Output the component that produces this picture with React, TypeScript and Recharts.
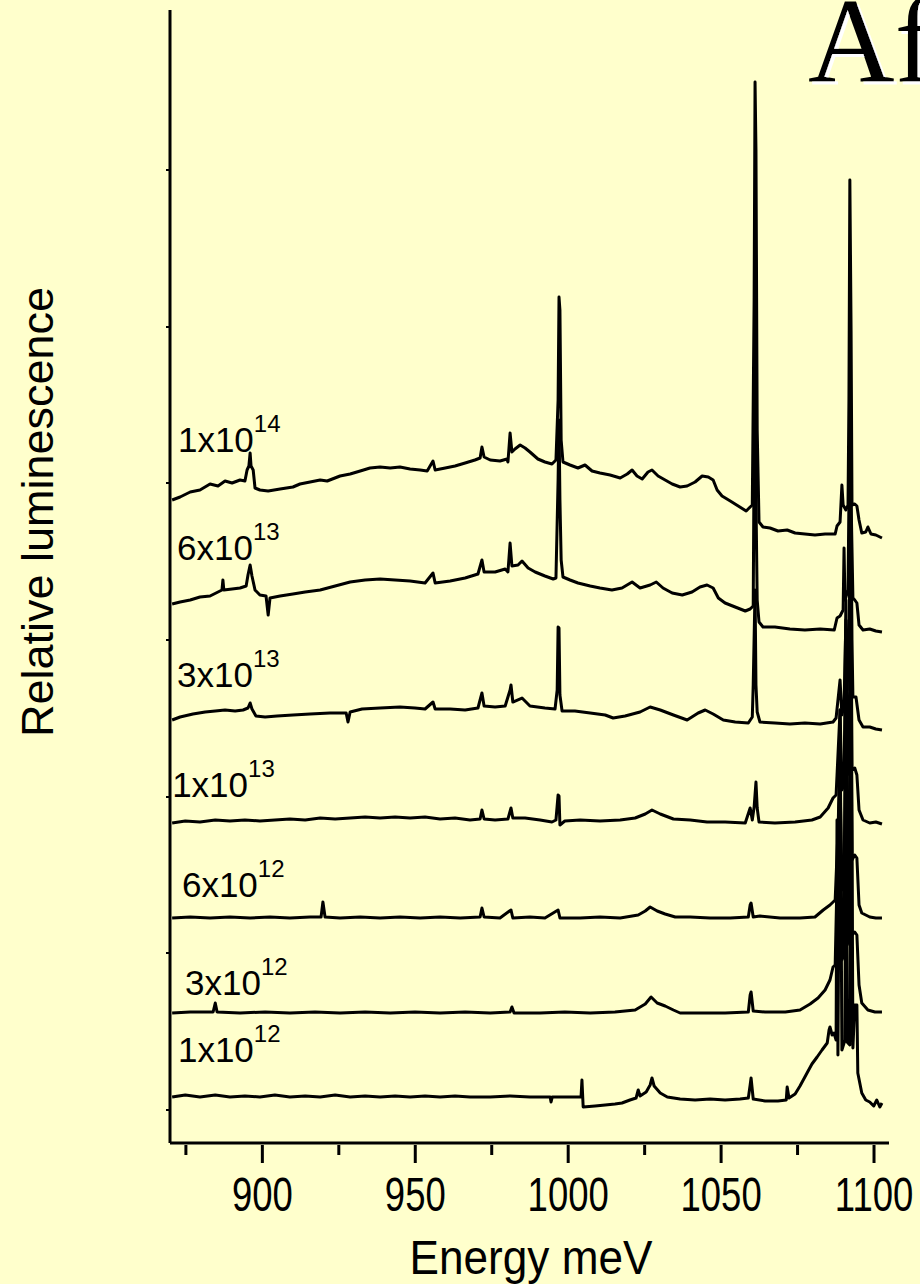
import React from "react";
import { Line, LineChart, ReferenceDot, XAxis, YAxis } from "recharts";

// photoluminescence spectra, offset per implant dose (energy meV, relative level)
const dose1e14: [number, number][] = [
	[870.5, 643], [873.1, 646], [876.4, 651], [879.6, 653], [882.9, 659], [885.5, 657], [887.8, 662], [890.1, 660],
	[892.7, 663], [894.3, 662], [895.0, 673], [895.6, 677], [896.0, 690], [896.3, 677], [897.0, 673], [897.6, 655],
	[899.2, 653], [901.9, 652], [905.8, 654], [910.0, 656], [912.3, 659], [915.6, 661], [918.9, 663], [921.2, 662],
	[925.4, 667], [928.7, 669], [932.0, 672], [935.2, 675], [938.5, 676], [941.8, 675], [945.0, 676], [948.3, 674],
	[951.6, 673], [953.9, 672], [955.8, 682], [956.5, 673], [959.8, 675], [963.0, 677], [966.3, 680], [969.5, 683],
	[971.2, 685], [971.8, 696], [972.5, 686], [974.5, 683], [977.7, 682], [980.0, 684], [980.3, 681], [981.0, 710],
	[981.6, 691], [982.6, 694], [984.3, 698], [985.9, 695], [987.5, 691], [990.1, 684], [992.4, 681], [994.7, 679],
	[996.0, 683], [996.7, 743], [997.0, 846], [997.3, 833], [997.7, 703], [998.3, 681], [1000.6, 678], [1003.2, 675],
	[1005.5, 678], [1007.8, 672], [1010.4, 670], [1013.7, 668], [1017.0, 665], [1019.3, 669], [1020.9, 673], [1022.5, 667],
	[1024.2, 664], [1026.1, 671], [1027.4, 673], [1029.4, 667], [1031.7, 663], [1034.0, 659], [1036.6, 656], [1038.9, 657],
	[1041.5, 661], [1043.8, 667], [1045.8, 666], [1047.4, 663], [1048.7, 653], [1050.3, 647], [1053.0, 642], [1055.6, 637],
	[1058.2, 632], [1059.5, 636], [1060.2, 638], [1060.8, 843], [1061.1, 1061], [1061.4, 993], [1061.8, 713], [1062.4, 621],
	[1063.7, 616], [1066.0, 615], [1068.6, 612], [1071.6, 613], [1074.2, 610], [1077.4, 609], [1080.7, 608], [1084.0, 609],
	[1087.3, 609], [1087.9, 617], [1088.9, 621], [1089.5, 658], [1089.9, 638], [1090.8, 633], [1091.5, 638], [1091.8, 743],
	[1092.1, 963], [1092.5, 813], [1092.8, 638], [1093.7, 639], [1094.4, 637], [1095.1, 623], [1096.0, 610], [1097.3, 611],
	[1098.0, 616], [1099.0, 609], [1100.6, 608], [1102.6, 605],
];

const dose6e13: [number, number][] = [
	[870.5, 539], [873.1, 541], [876.4, 543], [879.6, 546], [882.9, 547], [886.8, 553], [887.1, 563], [887.4, 553],
	[890.1, 554], [892.7, 555], [894.7, 557], [895.3, 568], [896.0, 578], [896.6, 567], [897.6, 553], [899.2, 548],
	[901.2, 547], [901.9, 528], [902.5, 545], [905.8, 547], [910.0, 549], [914.0, 551], [918.9, 553], [923.8, 557],
	[928.7, 561], [933.6, 563], [938.5, 564], [943.4, 563], [948.3, 562], [953.2, 560], [955.8, 570], [956.5, 560],
	[961.4, 562], [966.3, 565], [970.5, 569], [971.8, 583], [972.5, 571], [976.1, 571], [979.4, 574], [980.3, 571],
	[981.0, 600], [981.6, 577], [983.6, 578], [984.9, 582], [986.9, 575], [989.2, 571], [992.4, 567], [995.1, 564],
	[996.0, 565], [996.7, 663], [997.0, 723], [997.3, 643], [997.7, 583], [998.3, 566], [1000.6, 563], [1003.2, 560],
	[1007.2, 557], [1010.4, 555], [1014.3, 553], [1017.6, 555], [1020.9, 561], [1023.5, 555], [1026.8, 558], [1028.8, 561],
	[1031.0, 555], [1034.0, 550], [1037.3, 548], [1040.5, 551], [1043.1, 556], [1045.4, 558], [1047.4, 555], [1049.1, 545],
	[1051.3, 540], [1054.6, 536], [1057.9, 532], [1059.5, 534], [1060.5, 537], [1060.8, 693], [1061.1, 883], [1061.4, 643],
	[1061.8, 543], [1062.4, 521], [1063.7, 516], [1067.6, 516], [1072.5, 514], [1077.4, 513], [1082.4, 514], [1087.0, 513],
	[1087.9, 525], [1088.9, 527], [1089.9, 533], [1090.2, 595], [1090.5, 543], [1091.5, 553], [1091.8, 643], [1092.1, 748],
	[1092.5, 643], [1093.1, 545], [1093.7, 543], [1094.4, 540], [1095.1, 518], [1096.4, 513], [1098.6, 514], [1100.6, 512],
	[1102.6, 511],
];

const dose3e13: [number, number][] = [
	[870.5, 423], [873.1, 426], [877.3, 429], [881.3, 431], [884.6, 432], [887.8, 433], [891.1, 432], [893.7, 433],
	[895.3, 435], [896.0, 440], [896.6, 434], [897.9, 427], [900.9, 426], [904.8, 427], [910.0, 428], [915.6, 429],
	[922.1, 430], [927.4, 430], [928.0, 421], [928.7, 431], [932.6, 434], [938.5, 435], [945.0, 436], [949.9, 435],
	[953.2, 434], [955.8, 441], [956.5, 434], [961.4, 434], [966.3, 433], [970.5, 435], [971.8, 450], [972.5, 437],
	[976.1, 436], [979.4, 437], [981.0, 453], [981.3, 458], [981.9, 441], [984.9, 445], [987.5, 437], [992.4, 435],
	[995.7, 434], [996.4, 453], [996.7, 516], [997.0, 515], [997.3, 448], [998.0, 432], [1002.2, 432], [1007.2, 430],
	[1012.1, 428], [1014.7, 425], [1018.6, 427], [1023.5, 431], [1026.8, 436], [1030.1, 433], [1034.4, 428], [1038.9, 423],
	[1042.5, 430], [1044.8, 433], [1047.4, 429], [1050.7, 423], [1054.6, 421], [1058.9, 420], [1060.2, 426], [1060.5, 458],
	[1061.1, 553], [1061.4, 458], [1061.8, 431], [1062.7, 421], [1067.6, 420], [1072.5, 419], [1077.4, 420], [1082.4, 419],
	[1086.6, 421], [1087.6, 425], [1088.9, 463], [1089.5, 428], [1090.2, 438], [1090.8, 523], [1091.2, 453], [1091.8, 503],
	[1092.4, 673], [1092.8, 503], [1093.1, 446], [1094.1, 446], [1095.1, 423], [1096.4, 416], [1098.6, 416], [1100.6, 414],
	[1102.6, 413],
];

const dose1e13: [number, number][] = [
	[870.5, 320], [874.8, 322], [879.6, 321], [884.6, 323], [889.4, 322], [894.3, 323], [899.2, 322], [904.1, 323],
	[909.0, 324], [914.0, 323], [918.9, 325], [923.8, 324], [928.7, 325], [933.6, 326], [938.5, 325], [943.4, 326],
	[948.3, 325], [953.2, 326], [958.1, 324], [963.0, 325], [967.9, 323], [971.2, 324], [971.8, 333], [972.5, 324],
	[976.1, 323], [980.3, 324], [981.3, 335], [981.9, 325], [985.9, 325], [990.8, 323], [994.7, 321], [996.0, 323],
	[996.7, 348], [997.0, 347], [997.3, 318], [998.9, 322], [1003.9, 323], [1010.4, 322], [1017.0, 323], [1021.9, 325],
	[1025.2, 329], [1027.4, 333], [1030.1, 329], [1034.4, 324], [1039.9, 323], [1045.4, 321], [1051.3, 321], [1057.9, 320],
	[1059.5, 335], [1060.2, 323], [1060.8, 336], [1061.4, 361], [1061.8, 335], [1062.4, 321], [1067.6, 320], [1074.2, 321],
	[1079.7, 323], [1082.4, 326], [1085.0, 335], [1086.6, 345], [1087.6, 348], [1088.9, 433], [1089.5, 353], [1090.2, 358],
	[1090.8, 543], [1091.2, 368], [1091.8, 370], [1092.4, 603], [1092.8, 373], [1093.7, 375], [1094.4, 368], [1095.1, 333],
	[1096.4, 323], [1098.6, 320], [1100.6, 321], [1102.6, 319],
];

const dose6e12: [number, number][] = [
	[870.5, 225], [876.4, 226], [882.9, 225], [889.4, 226], [896.0, 225], [902.5, 226], [909.0, 225], [915.6, 226],
	[919.2, 226], [919.8, 241], [920.5, 226], [925.4, 225], [932.0, 226], [938.5, 225], [945.0, 226], [951.6, 225],
	[958.1, 226], [964.7, 225], [971.2, 226], [971.8, 235], [972.5, 226], [977.7, 225], [981.3, 233], [981.9, 225],
	[987.5, 226], [992.4, 225], [996.7, 233], [997.3, 225], [1003.9, 225], [1010.4, 226], [1017.0, 225], [1022.9, 228],
	[1025.2, 232], [1026.8, 236], [1029.1, 232], [1031.7, 229], [1035.0, 226], [1039.9, 226], [1046.4, 225], [1053.0, 225],
	[1058.9, 226], [1059.5, 238], [1059.8, 240], [1060.5, 226], [1062.7, 227], [1069.3, 225], [1075.8, 225], [1080.7, 226],
	[1083.4, 233], [1085.6, 238], [1087.3, 243], [1088.9, 363], [1089.5, 253], [1090.2, 258], [1090.8, 443], [1091.2, 273],
	[1091.8, 278], [1092.4, 503], [1092.8, 283], [1093.7, 288], [1094.4, 285], [1095.1, 238], [1096.0, 230], [1098.6, 226],
	[1100.6, 225], [1102.6, 225],
];

const dose3e12: [number, number][] = [
	[870.5, 130], [876.4, 131], [883.9, 131], [884.6, 140], [885.2, 131], [892.7, 130], [900.9, 131], [909.0, 130],
	[917.2, 131], [925.4, 130], [933.6, 131], [941.8, 130], [949.9, 131], [958.1, 130], [966.3, 131], [974.5, 130],
	[981.0, 131], [981.6, 136], [982.3, 130], [990.8, 130], [998.9, 131], [1007.2, 130], [1015.3, 131], [1021.9, 133],
	[1025.2, 139], [1027.1, 146], [1029.1, 140], [1031.7, 137], [1034.4, 133], [1036.6, 130], [1043.1, 130], [1051.3, 130],
	[1058.9, 131], [1059.5, 148], [1059.8, 151], [1060.5, 132], [1064.4, 131], [1071.0, 131], [1075.8, 133], [1079.1, 139],
	[1081.7, 145], [1084.0, 153], [1085.6, 163], [1086.6, 176], [1087.3, 178], [1088.9, 403], [1089.5, 183], [1090.2, 188],
	[1090.8, 483], [1091.2, 198], [1091.8, 203], [1092.4, 543], [1092.8, 208], [1093.7, 211], [1094.4, 208], [1095.1, 158],
	[1096.0, 140], [1098.0, 133], [1100.3, 131], [1102.6, 131],
];

const dose1e12: [number, number][] = [
	[870.5, 46], [874.8, 48], [879.6, 46], [884.6, 48], [889.4, 46], [894.3, 47], [899.2, 46], [904.1, 48],
	[909.0, 46], [914.0, 47], [918.9, 46], [923.8, 48], [928.7, 46], [933.6, 47], [938.5, 46], [943.4, 47],
	[948.3, 46], [953.2, 47], [958.1, 46], [963.0, 47], [967.9, 46], [974.5, 46], [981.0, 47], [987.5, 46],
	[994.1, 46], [994.4, 41], [994.8, 46], [1000.6, 46], [1004.2, 46], [1004.5, 63], [1004.9, 36], [1008.8, 37],
	[1012.1, 38], [1015.3, 39], [1017.6, 40], [1020.2, 43], [1022.2, 45], [1022.9, 53], [1023.5, 47], [1025.5, 51],
	[1026.8, 58], [1027.4, 65], [1028.1, 57], [1030.1, 50], [1032.4, 46], [1036.6, 44], [1041.5, 43], [1046.4, 44],
	[1051.3, 43], [1056.2, 44], [1058.9, 45], [1059.5, 58], [1059.8, 65], [1060.5, 44], [1064.4, 42], [1068.6, 42],
	[1071.3, 43], [1071.6, 56], [1072.2, 45], [1074.2, 49], [1075.8, 57], [1078.1, 70], [1079.7, 79], [1081.4, 86],
	[1083.0, 93], [1084.7, 100], [1085.3, 113], [1085.6, 116], [1086.3, 108], [1086.9, 110], [1087.6, 103], [1087.9, 323],
	[1088.2, 88], [1088.9, 433], [1089.5, 93], [1090.5, 103], [1090.8, 463], [1091.2, 101], [1092.1, 98], [1092.5, 523],
	[1093.1, 95], [1093.7, 138], [1094.4, 138], [1094.7, 70], [1096.0, 50], [1097.3, 43], [1098.6, 41], [1099.9, 37],
	[1100.9, 43], [1101.9, 36], [1102.6, 40],
];

const traces = [dose1e14, dose6e13, dose3e13, dose1e13, dose6e12, dose3e12, dose1e12];

// dose annotations, written as mantissa x 10^exponent
const doseMantissa = ["1x10", "6x10", "3x10", "1x10", "6x10", "3x10", "1x10"];
const doseExponent = ["14", "13", "13", "13", "12", "12", "12"];
const labelEnergy = [872.4, 872.1, 872.1, 870.5, 873.7, 874.7, 872.4];
const labelLevel = [691, 583, 456, 346, 246, 148, 81];

const energyTicks = [875, 900, 925, 950, 975, 1000, 1025, 1050, 1075, 1100];
const levelTicks = [33, 190, 346, 503, 660, 816, 973];

const BG = "#FFFFCC";
const SANS = "'Liberation Sans', Arial, Helvetica, sans-serif";
const SERIF = "'Liberation Serif', 'Times New Roman', serif";

const EnergyTick = (props: any) => {
	const { x, y, payload } = props;
	const major = payload.value % 50 === 0;
	return (
		<g>
			<line x1={x} y1={y} x2={x} y2={y + (major ? 18 : 10)} stroke="#000" strokeWidth={3} />
			{major && (
				<text
					transform={`translate(${x},${y + 66}) scale(0.76,1)`}
					textAnchor="middle"
					fontSize={48}
					fontFamily={SANS}
					fill="#000"
				>
					{payload.value}
				</text>
			)}
		</g>
	);
};

const blankTick = () => <g />;

export default function App() {
	return (
		<div style={{ position: "relative", width: 920, height: 1284, background: BG }}>
			<style>{`body{margin:0;background:${BG}}`}</style>
			<LineChart width={920} height={1284} margin={{ top: 10, right: 31, bottom: 0, left: 100 }}>
				<XAxis
					type="number"
					dataKey="e"
					domain={[869.8, 1104.9]}
					allowDataOverflow
					ticks={energyTicks}
					interval={0}
					tickSize={0}
					tickLine={false}
					tick={EnergyTick}
					height={141}
					axisLine={{ stroke: "#000", strokeWidth: 3 }}
				/>
				<YAxis
					type="number"
					domain={[0, 1133]}
					allowDataOverflow
					ticks={levelTicks}
					interval={0}
					width={70}
					tickSize={4}
					tick={blankTick}
					tickLine={{ stroke: "#000", strokeWidth: 2 }}
					axisLine={{ stroke: "#000", strokeWidth: 3 }}
				/>
				{traces.map((pts, i) => (
					<Line
						key={`trace-${i}`}
						data={pts.map(([e, v]) => ({ e, v }))}
						dataKey="v"
						type="linear"
						stroke="#000"
						strokeWidth={3}
						strokeLinejoin="round"
						dot={false}
						isAnimationActive={false}
					/>
				))}
				{doseMantissa.map((m, i) => (
					<ReferenceDot
						key={`dose-${i}`}
						x={labelEnergy[i]}
						y={labelLevel[i]}
						r={0}
						ifOverflow="visible"
						shape={(p: any) => (
							<text x={p.cx} y={p.cy} fontSize={35} fontFamily={SANS} fill="#000">
								{m}
								<tspan dy={-20} fontSize={24}>
									{doseExponent[i]}
								</tspan>
							</text>
						)}
					/>
				))}
			</LineChart>
			<svg
				width={920}
				height={1284}
				style={{ position: "absolute", left: 0, top: 0, pointerEvents: "none" }}
			>
				<defs>
					<filter id="whiteShadow" x="-10%" y="-10%" width="130%" height="130%">
						<feDropShadow dx={3} dy={3} stdDeviation={0} floodColor="#fff" floodOpacity={1} />
					</filter>
				</defs>
				<text x={808} y={82} fontSize={120} fontFamily={SERIF} fill="#000" filter="url(#whiteShadow)">
					Af
				</text>
				<text
					transform="translate(53,512) rotate(-90)"
					textAnchor="middle"
					fontSize={45}
					fontFamily={SANS}
					fill="#000"
				>
					Relative luminescence
				</text>
				<text
					transform="translate(531,1274) scale(0.92,1)"
					textAnchor="middle"
					fontSize={48}
					fontFamily={SANS}
					fill="#000"
				>
					Energy meV
				</text>
			</svg>
		</div>
	);
}
